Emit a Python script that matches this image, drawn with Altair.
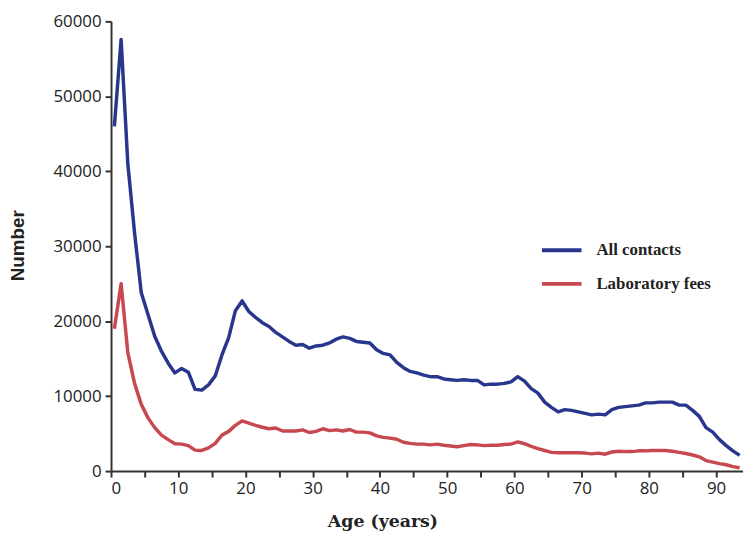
import altair as alt
import pandas as pd

ages = [a + 0.5 for a in range(94)]

all_contacts = [
    46000, 57600, 41000, 31800, 23800, 20900, 18000, 16000, 14400, 13100,
    13700, 13200, 10900, 10800, 11500, 12700, 15500, 17800, 21400, 22700,
    21300, 20500, 19800, 19300, 18500, 17900, 17300, 16800, 16900, 16400,
    16700, 16800, 17100, 17600, 17900, 17700, 17300, 17200, 17100, 16200,
    15700, 15500, 14500, 13800, 13300, 13100, 12800, 12600, 12600, 12300,
    12200, 12100, 12200, 12100, 12100, 11500, 11600, 11600, 11700, 11900,
    12600, 12000, 11000, 10400, 9200, 8500, 7900, 8200, 8100, 7900,
    7700, 7500, 7600, 7500, 8200, 8500, 8600, 8700, 8800, 9100,
    9100, 9200, 9200, 9200, 8800, 8800, 8100, 7300, 5800, 5200,
    4200, 3400, 2700, 2100,
]

lab_fees = [
    19000, 25000, 15800, 11700, 8900, 7100, 5800, 4800, 4200, 3650,
    3600, 3400, 2800, 2750, 3100, 3700, 4800, 5300, 6100, 6700,
    6400, 6100, 5850, 5650, 5750, 5350, 5350, 5350, 5500, 5150,
    5300, 5650, 5400, 5500, 5350, 5550, 5200, 5200, 5100, 4700,
    4500, 4400, 4250, 3850, 3700, 3600, 3600, 3500, 3600, 3450,
    3350, 3250, 3400, 3550, 3500, 3400, 3450, 3450, 3550, 3600,
    3900, 3650, 3300, 3000, 2750, 2500, 2450, 2450, 2450, 2450,
    2400, 2300, 2400, 2250, 2550, 2650, 2600, 2600, 2700, 2700,
    2750, 2750, 2750, 2650, 2500, 2350, 2150, 1900, 1400, 1200,
    1000, 850, 600, 450,
]

series_names = ["All contacts", "Laboratory fees"]
series_colors = ["#28378d", "#c8484f"]

df = pd.concat([
    pd.DataFrame({"age": ages, "value": all_contacts, "series": series_names[0]}),
    pd.DataFrame({"age": ages, "value": lab_fees, "series": series_names[1]}),
])

x_ticks = list(range(0, 95, 5))
y_ticks = list(range(0, 60001, 10000))

chart = alt.Chart(df).mark_line(strokeWidth=3.5, strokeJoin="round").encode(
    x=alt.X("age:Q",
            scale=alt.Scale(domain=[0, 94], nice=False, zero=False),
            axis=alt.Axis(title="Age (years)", values=x_ticks,
                          labelExpr="datum.value % 10 == 0 ? datum.label : ''",
                          titleX=274, titleY=56, titleBaseline="alphabetic",
                          titleAnchor="start", titleAlign="center",
                          titleFont="DejaVu Serif", titleFontSize=17.5)),
    y=alt.Y("value:Q",
            scale=alt.Scale(domain=[0, 60000], nice=False),
            axis=alt.Axis(title="Number", values=y_ticks, format="d",
                          titleX=-94, titleY=226, titleBaseline="middle",
                          titleAlign="center", titleAngle=-90,
                          titleFont="Liberation Sans", titleFontSize=19)),
    color=alt.Color("series:N",
                    scale=alt.Scale(domain=series_names, range=series_colors),
                    legend=alt.Legend(title=None, orient="none",
                                      legendX=433, legendY=209,
                                      symbolType="stroke", symbolSize=1600,
                                      symbolStrokeWidth=4, labelOffset=13,
                                      rowPadding=4,
                                      labelFont="Liberation Serif", labelFontWeight="bold",
                                      labelFontSize=17, labelColor="#222")),
).properties(
    width=638, height=454,
    autosize=alt.AutoSizeParams(type="none"),
    padding={"left": 104, "top": 11, "right": 0, "bottom": 61},
).configure_view(
    stroke=None
).configure_axis(
    grid=False,
    domainColor="#333", domainWidth=2,
    tickColor="#333", tickWidth=2, tickSize=6,
    labelFont="Open Sans", labelFontSize=17, labelColor="#222", labelPadding=4,
    titleFontWeight="bold", titleColor="#222",
)

chart.save("out.html", embed_options={"renderer": "svg", "actions": False})
